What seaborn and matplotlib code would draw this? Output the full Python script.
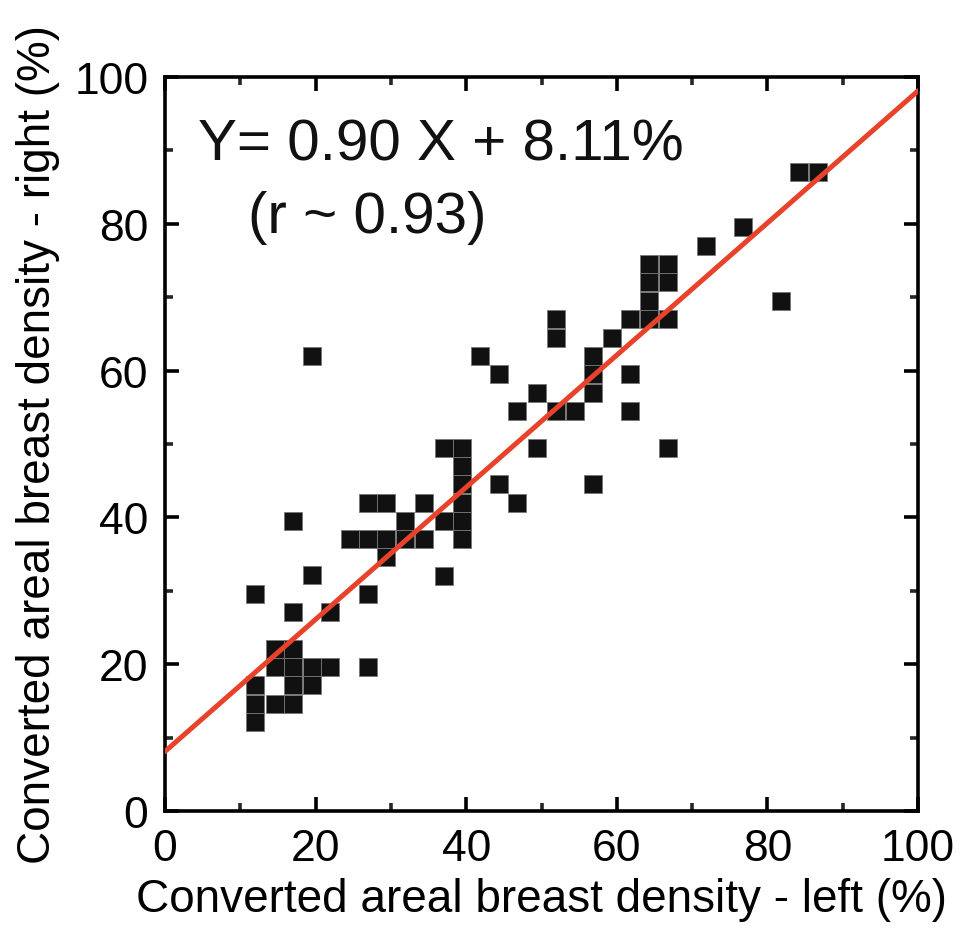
import numpy as np
import pandas as pd
import matplotlib
matplotlib.use("Agg")
import matplotlib.pyplot as plt
from matplotlib.ticker import MultipleLocator
import seaborn as sns

# Converted areal breast density (%) per subject
left_density = [
    12.0, 12.0, 12.0, 12.0, 14.6, 14.6, 14.6, 17.0, 17.0, 17.0,
    17.0, 17.0, 17.0, 19.5, 19.5, 19.5, 19.5, 21.9, 21.9, 24.6,
    27.0, 27.0, 27.0, 27.0, 29.4, 29.4, 29.4, 31.9, 31.9, 34.4,
    34.4, 37.0, 37.0, 37.0, 39.4, 39.4, 39.4, 39.4, 39.4, 39.4,
    41.8, 44.4, 44.4, 46.8, 46.8, 49.4, 49.4, 51.9, 51.9, 51.9,
    54.4, 56.9, 56.9, 56.9, 56.9, 59.3, 61.8, 61.8, 61.8, 64.3,
    64.3, 64.3, 64.3, 66.8, 66.8, 66.8, 66.8, 71.8, 76.8, 81.8,
    84.2, 86.7,
]
right_density = [
    29.6, 17.1, 14.6, 12.1, 22.1, 19.6, 14.6, 39.5, 27.1, 22.1,
    19.6, 17.1, 14.6, 62.0, 32.1, 19.6, 17.1, 27.1, 19.6, 37.1,
    42.0, 37.1, 29.6, 19.6, 42.0, 37.1, 34.6, 39.5, 37.1, 42.0,
    37.1, 49.5, 39.5, 32.0, 49.5, 47.0, 44.5, 42.0, 39.5, 37.1,
    62.0, 59.5, 44.5, 54.5, 42.0, 57.0, 49.5, 67.0, 64.5, 54.5,
    54.5, 62.0, 59.5, 57.0, 44.5, 64.5, 67.0, 59.5, 54.5, 74.5,
    72.0, 69.5, 67.0, 74.5, 72.0, 67.0, 49.5, 77.0, 79.5, 69.5,
    87.1, 87.1,
]

# Linear fit reported on the chart
slope = 0.90
intercept = 8.11
r_value = 0.93

axis_ticks = [0, 20, 40, 60, 80, 100]

df = pd.DataFrame({"left": left_density, "right": right_density})

sns.set_theme(style="ticks")
plt.rcParams["font.family"] = ["Liberation Sans", "DejaVu Sans"]
plt.rcParams["text.color"] = "black"
plt.rcParams["axes.labelcolor"] = "black"

fig = plt.figure(figsize=(9.6, 9.37), dpi=100)
ax = fig.add_axes([0.1719, 0.1334, 0.7844, 0.7834])

sns.scatterplot(
    data=df, x="left", y="right", ax=ax,
    marker="s", s=150, color="#111111",
    edgecolor="#777777", linewidth=0.6, zorder=3,
)

fit_x = np.array([axis_ticks[0], axis_ticks[-1]], dtype=float)
sns.lineplot(x=fit_x, y=slope * fit_x + intercept, ax=ax,
             color="#E8432A", linewidth=3.6, zorder=4)

ax.set_xlim(axis_ticks[0], axis_ticks[-1])
ax.set_ylim(axis_ticks[0], axis_ticks[-1])
ax.set_xticks(axis_ticks)
ax.set_yticks(axis_ticks)
ax.xaxis.set_minor_locator(MultipleLocator(10))
ax.yaxis.set_minor_locator(MultipleLocator(10))

for side in ["left", "right", "top", "bottom"]:
    ax.spines[side].set_linewidth(2.6)
    ax.spines[side].set_color("black")

ax.tick_params(which="major", direction="in", length=10, width=2.6,
               top=True, right=True, labelsize=32, pad=12, colors="black")
ax.tick_params(which="minor", direction="in", length=5.5, width=2.6,
               top=True, right=True)

ax.set_xlabel("Converted areal breast density - left (%)", fontsize=33,
              labelpad=6, color="black")
ax.set_ylabel("Converted areal breast density - right (%)", fontsize=33,
              labelpad=10, color="black")

ax.text(4.4, 88.8, f"Y= {slope:.2f} X + {intercept:.2f}%", fontsize=42,
        ha="left", va="baseline", color="#111111")
ax.text(11.0, 78.9, f"(r ~ {r_value:.2f})", fontsize=42,
        ha="left", va="baseline", color="#111111")

fig.savefig("out.png", dpi=100, facecolor="white")
